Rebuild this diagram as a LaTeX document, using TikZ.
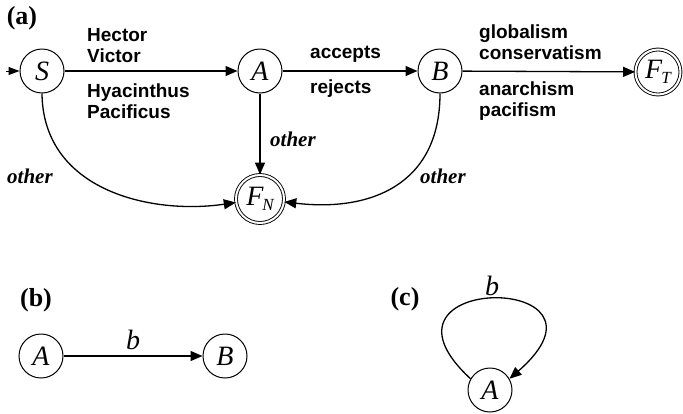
\documentclass[tikz,border=0pt]{standalone}
\usepackage{fontspec}
\setmainfont{Liberation Serif}
\newfontfamily\lsans{Liberation Sans}
\usetikzlibrary{arrows.meta}
\tikzset{
  st/.style={circle, draw, line width=1pt, minimum size=44pt, inner sep=0pt,
    font=\fontsize{28}{28}\selectfont\itshape},
  fin/.style={circle, draw, double, double distance=2pt, line width=0.9pt,
    inner sep=0pt, font=\fontsize{28}{28}\selectfont\itshape},
  edge/.style={line width=1.3pt, -{Triangle[length=12pt,width=10pt]}},
  lab/.style={inner sep=0pt, font=\lsans\bfseries\fontsize{19}{21}\selectfont, align=left},
  oth/.style={inner sep=0pt, font=\fontsize{21}{21}\selectfont\bfseries\itshape},
  sym/.style={inner sep=0pt, font=\fontsize{28}{28}\selectfont\itshape},
  part/.style={inner sep=0pt, font=\fontsize{26}{26}\selectfont\bfseries},
}
\newcommand{\subl}[1]{\raisebox{-5pt}{\fontsize{17}{17}\selectfont #1}}
\begin{document}
\begin{tikzpicture}[x=1pt,y=1pt]
\useasboundingbox (0,0) rectangle (683,-413);
% (a)
\node[part] (pa) at (22,-18) {(a)};
\node[st] (S) at (42,-71) {S};
\node[st] (A) at (260,-71) {A};
\node[st] (B) at (440,-71) {B};
\node[fin, minimum size=45pt] (FT) at (658,-72) {F\kern-1pt\subl{T}};
\node[fin, minimum size=48pt] (FN) at (260,-199) {F\kern-1pt\subl{N}};
\coordinate (init) at (6,-71);
\draw[line width=1pt, -{Triangle[length=11pt,width=8pt]}] (init) -- (S);
\draw[edge] (S) -- (A);
\draw[edge] (A) -- (B);
\draw[edge] (B) -- (FT);
\draw[edge] (A) -- (FN);
\draw[edge] (S.south) .. controls (43,-190) and (150,-215) .. (FN);
\draw[edge] (B.south) .. controls (440,-185) and (370,-212) .. (FN);
\node[lab, anchor=north west] (l1) at (87,-28.5) {Hector\\Victor};
\node[lab, anchor=north west] (l2) at (87,-83.5) {Hyacinthus\\Pacificus};
\node[lab, anchor=base west] (l3) at (310,-58) {accepts};
\node[lab, anchor=base west] (l4) at (310,-93) {rejects};
\node[lab, anchor=north west] (l5) at (479,-25) {globalism\\conservatism};
\node[lab, anchor=north west] (l6) at (479,-82) {anarchism\\pacifism};
\node[oth, anchor=west] (o1) at (7,-176) {other};
\node[oth, anchor=west] (o2) at (270,-139) {other};
\node[oth, anchor=west] (o3) at (420,-176) {other};
% (b)
\node[part] (pb) at (36,-300) {(b)};
\node[st] (bA) at (41,-356) {A};
\node[st] (bB) at (225,-356) {B};
\draw[edge] (bA) -- node[sym, above=6pt] (bl) {b} (bB);
% (c)
\node[part] (pc) at (405,-299) {(c)};
\node[st] (cA) at (490,-390) {A};
\draw[edge] (cA.150) .. controls (355,-272) and (632,-272) .. (cA.30);
\node[sym] (cl) at (492,-286) {b};
\end{tikzpicture}
\end{document}
